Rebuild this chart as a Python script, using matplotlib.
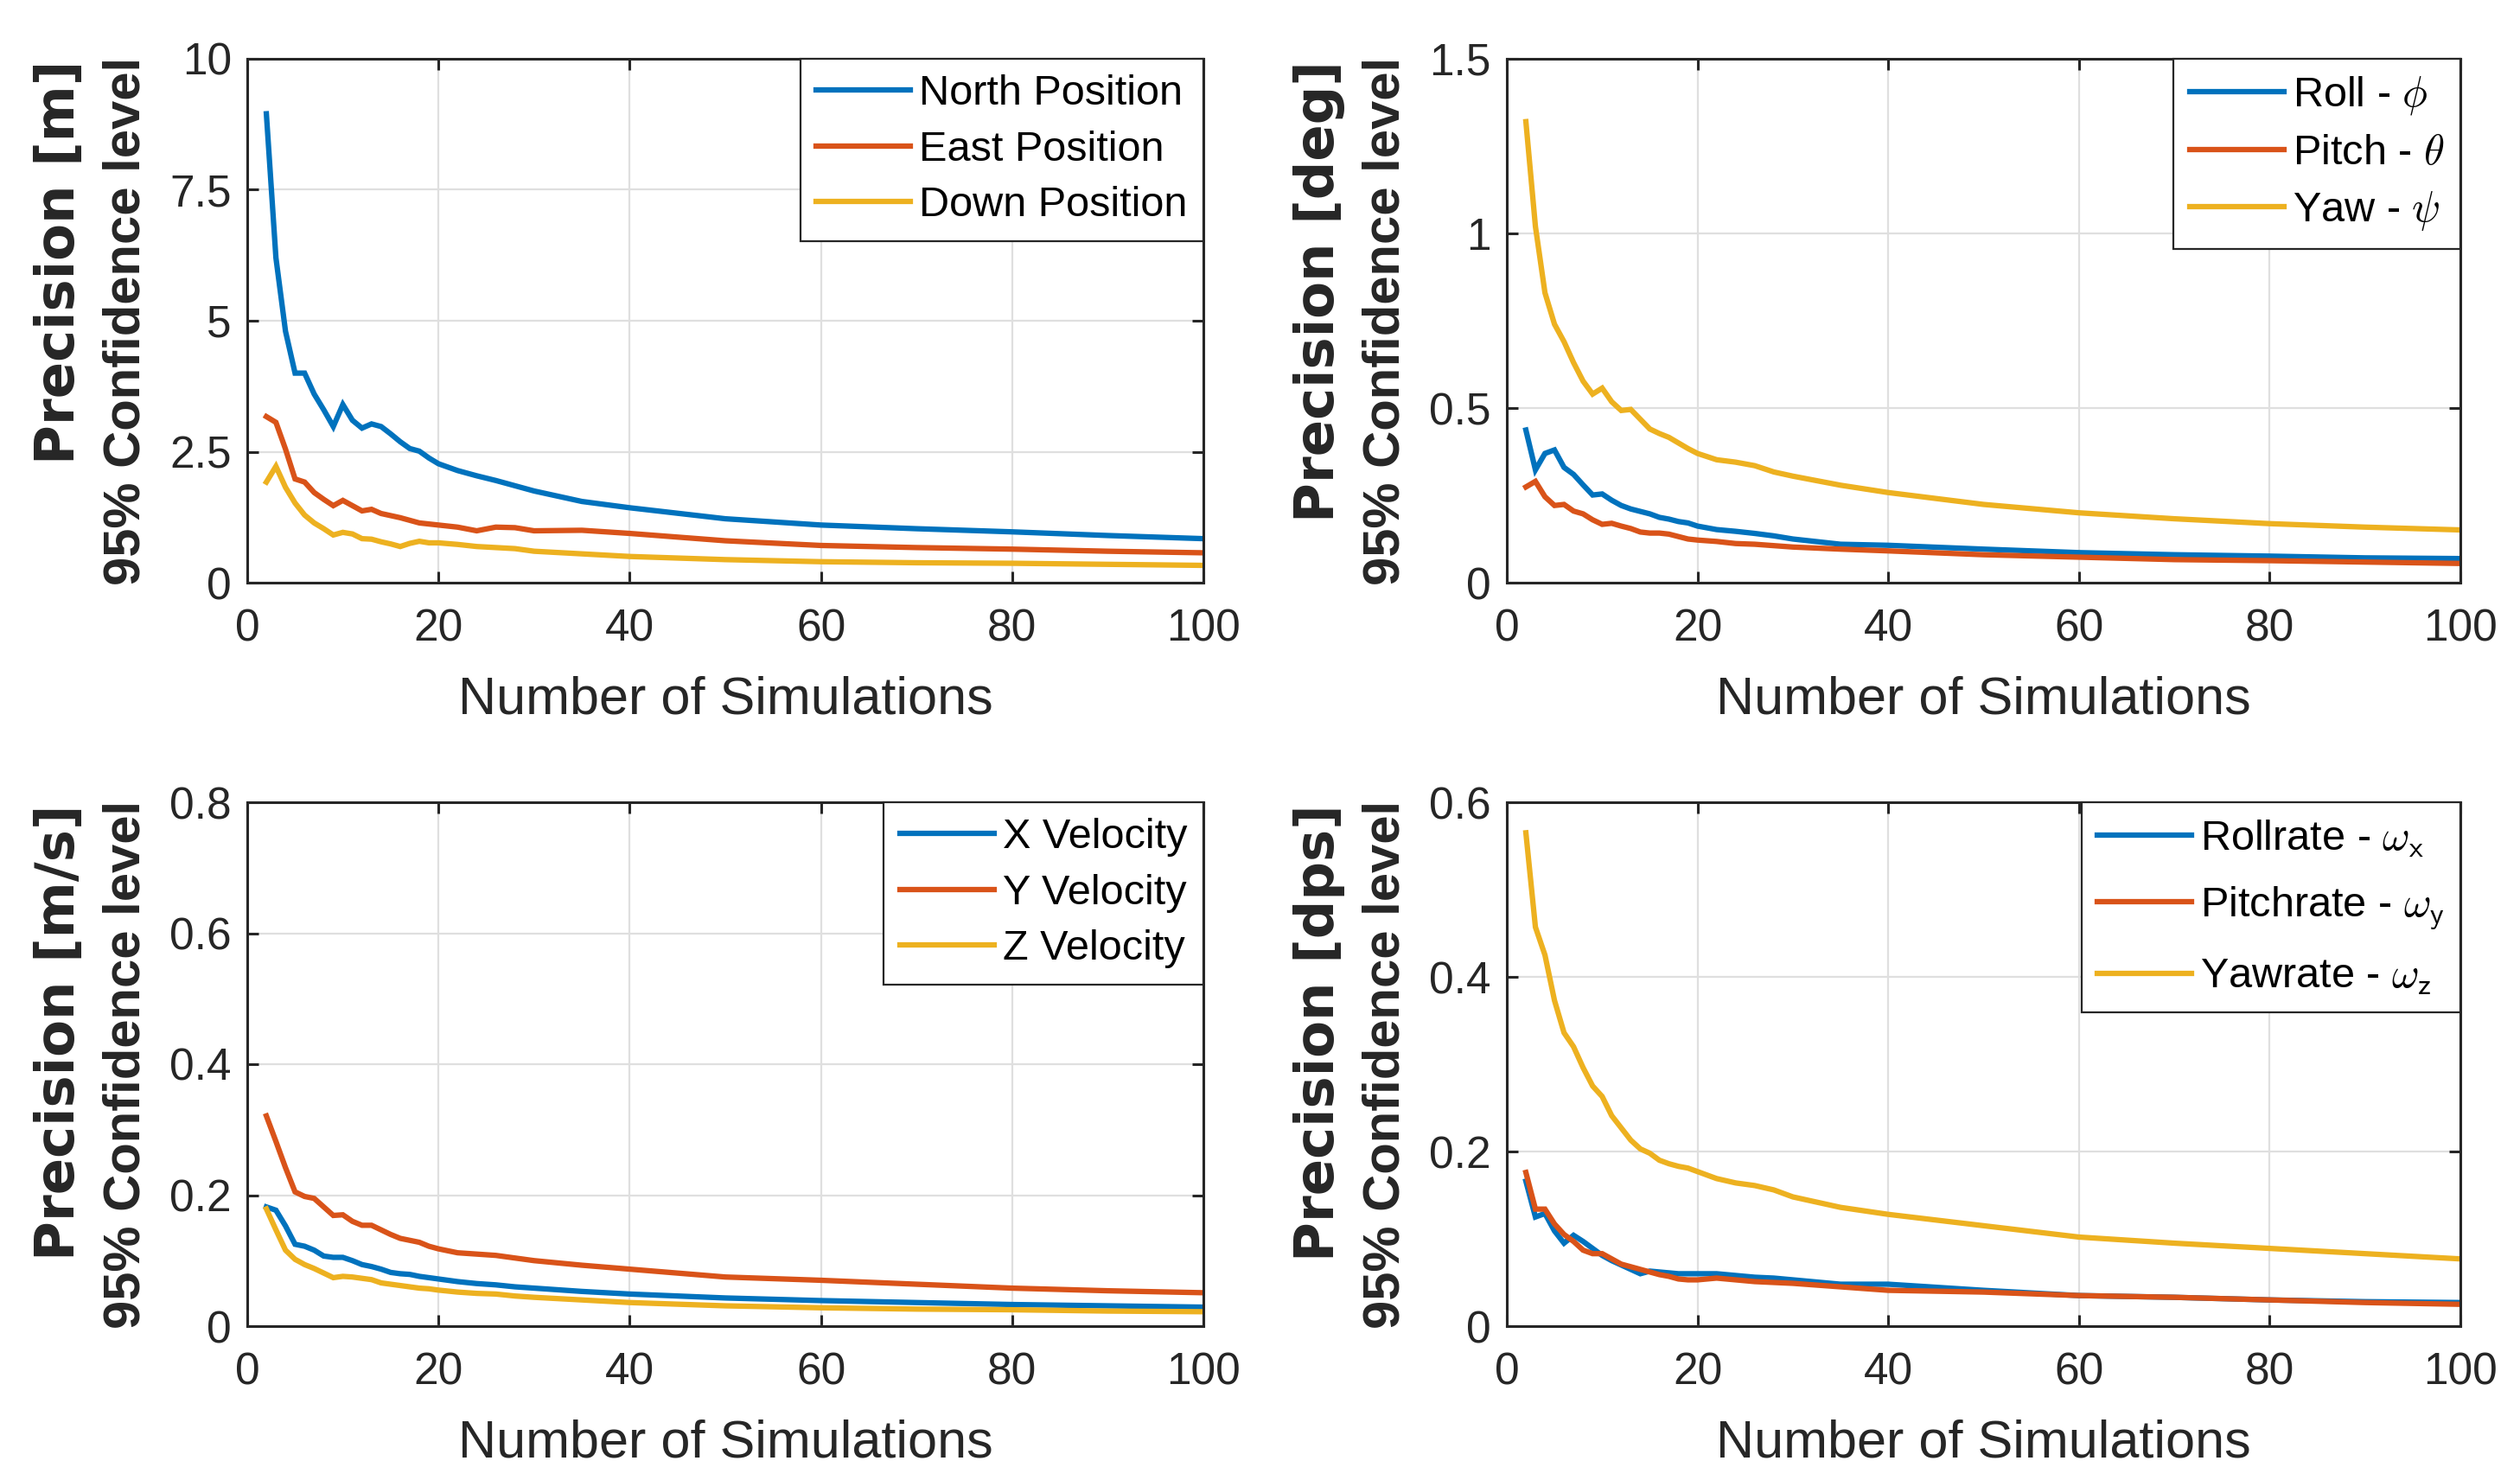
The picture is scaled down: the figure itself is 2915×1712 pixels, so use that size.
import matplotlib
matplotlib.use("Agg")
import matplotlib.pyplot as plt
from matplotlib import font_manager as fm

# ---------------- data ----------------
n_sims = [2, 3, 4, 5, 6, 7, 8, 9, 10, 11, 12, 13, 14, 15, 16, 17, 18, 19, 20,
          22, 24, 26, 28, 30, 35, 40, 50, 60, 70, 80, 90, 100]

north_pos = [8.95, 6.2, 4.8, 4.0, 4.0, 3.6, 3.3, 2.98, 3.4, 3.1, 2.95, 3.03, 2.98, 2.84, 2.69, 2.56, 2.51, 2.38, 2.27,
             2.14, 2.04, 1.95, 1.85, 1.75, 1.55, 1.43, 1.22, 1.10, 1.03, 0.97, 0.90, 0.84]
east_pos = [3.17, 3.06, 2.55, 1.98, 1.92, 1.72, 1.59, 1.47, 1.57, 1.47, 1.37, 1.40, 1.32, 1.28, 1.24, 1.19, 1.14, 1.12, 1.10,
            1.06, 0.99, 1.06, 1.05, 0.99, 1.00, 0.94, 0.80, 0.71, 0.67, 0.64, 0.60, 0.57]
down_pos = [1.92, 2.22, 1.82, 1.52, 1.29, 1.14, 1.03, 0.91, 0.96, 0.93, 0.84, 0.83, 0.78, 0.74, 0.69, 0.75, 0.79, 0.76, 0.76,
            0.73, 0.69, 0.67, 0.65, 0.60, 0.55, 0.50, 0.44, 0.40, 0.38, 0.37, 0.35, 0.33]

roll = [0.437, 0.323, 0.37, 0.38, 0.33, 0.31, 0.28, 0.251, 0.254, 0.236, 0.221, 0.211, 0.204, 0.197, 0.187, 0.182, 0.175, 0.171, 0.162,
        0.152, 0.147, 0.141, 0.134, 0.125, 0.110, 0.107, 0.096, 0.086, 0.080, 0.076, 0.071, 0.069]
pitch = [0.274, 0.29, 0.246, 0.221, 0.224, 0.205, 0.197, 0.18, 0.167, 0.17, 0.162, 0.155, 0.145, 0.142, 0.142, 0.139, 0.132, 0.125, 0.122,
         0.118, 0.112, 0.11, 0.106, 0.102, 0.096, 0.091, 0.080, 0.073, 0.066, 0.063, 0.059, 0.055]
yaw = [1.32, 1.02, 0.83, 0.74, 0.69, 0.63, 0.577, 0.54, 0.557, 0.518, 0.493, 0.496, 0.468, 0.44, 0.427, 0.416, 0.40, 0.384, 0.37,
       0.352, 0.345, 0.335, 0.317, 0.305, 0.279, 0.258, 0.224, 0.20, 0.183, 0.169, 0.159, 0.151]

x_vel = [0.182, 0.177, 0.153, 0.125, 0.122, 0.116, 0.107, 0.105, 0.105, 0.10, 0.094, 0.091, 0.087, 0.082, 0.08, 0.079, 0.076, 0.074, 0.072,
         0.068, 0.065, 0.063, 0.060, 0.058, 0.053, 0.049, 0.043, 0.039, 0.036, 0.033, 0.031, 0.029]
y_vel = [0.321, 0.282, 0.242, 0.205, 0.198, 0.195, 0.182, 0.169, 0.170, 0.160, 0.154, 0.154, 0.147, 0.14, 0.134, 0.131, 0.128, 0.122, 0.118,
         0.112, 0.110, 0.108, 0.104, 0.100, 0.093, 0.087, 0.075, 0.070, 0.064, 0.058, 0.054, 0.051]
z_vel = [0.179, 0.147, 0.116, 0.102, 0.094, 0.088, 0.081, 0.074, 0.076, 0.075, 0.073, 0.071, 0.066, 0.064, 0.062, 0.060, 0.058, 0.057, 0.055,
         0.052, 0.050, 0.049, 0.046, 0.044, 0.040, 0.036, 0.031, 0.028, 0.026, 0.025, 0.023, 0.022]

rollrate = [0.166, 0.125, 0.129, 0.109, 0.095, 0.104, 0.097, 0.089, 0.081, 0.075, 0.07, 0.065, 0.06, 0.063, 0.062, 0.061, 0.06, 0.060, 0.06,
            0.06, 0.058, 0.056, 0.055, 0.053, 0.048, 0.048, 0.041, 0.035, 0.033, 0.030, 0.028, 0.027]
pitchrate = [0.176, 0.134, 0.134, 0.117, 0.105, 0.097, 0.087, 0.083, 0.083, 0.077, 0.071, 0.068, 0.065, 0.062, 0.059, 0.057, 0.054, 0.053, 0.053,
             0.055, 0.053, 0.051, 0.05, 0.049, 0.045, 0.041, 0.039, 0.035, 0.033, 0.030, 0.027, 0.025]
yawrate = [0.565, 0.457, 0.425, 0.373, 0.336, 0.32, 0.296, 0.275, 0.263, 0.241, 0.227, 0.213, 0.203, 0.198, 0.19, 0.186, 0.183, 0.181, 0.177,
           0.169, 0.164, 0.161, 0.156, 0.148, 0.136, 0.128, 0.115, 0.102, 0.095, 0.089, 0.083, 0.077]

x_ticks = [0, 20, 40, 60, 80, 100]
x_tick_labels = ["0", "20", "40", "60", "80", "100"]
conf_label = "95% Confidence level"

panels = [
    dict(series=[north_pos, east_pos, down_pos],
         labels=["North Position", "East Position", "Down Position"],
         ylabel="Precision [m]",
         ylim=10, yticks=[0, 2.5, 5, 7.5, 10], yticklabels=["0", "2.5", "5", "7.5", "10"]),
    dict(series=[roll, pitch, yaw],
         labels=[r"Roll - $\phi$", r"Pitch - $\theta$", r"Yaw - $\psi$"],
         ylabel="Precision [deg]",
         ylim=1.5, yticks=[0, 0.5, 1, 1.5], yticklabels=["0", "0.5", "1", "1.5"]),
    dict(series=[x_vel, y_vel, z_vel],
         labels=["X Velocity", "Y Velocity", "Z Velocity"],
         ylabel="Precision [m/s]",
         ylim=0.8, yticks=[0, 0.2, 0.4, 0.6, 0.8], yticklabels=["0", "0.2", "0.4", "0.6", "0.8"]),
    dict(series=[rollrate, pitchrate, yawrate],
         labels=[r"Rollrate - $\omega_{\mathsf{x}}$", r"Pitchrate - $\omega_{\mathsf{y}}$", r"Yawrate - $\omega_{\mathsf{z}}$"],
         ylabel="Precision [dps]",
         ylim=0.6, yticks=[0, 0.2, 0.4, 0.6], yticklabels=["0", "0.2", "0.4", "0.6"]),
]

colors = ["#0072BD", "#D95319", "#EDB120"]

# ---------------- style ----------------
plt.rcParams["font.family"] = ["Liberation Sans", "DejaVu Sans"]
plt.rcParams["mathtext.fontset"] = "cm"

avail = {f.name for f in fm.fontManager.ttflist}
if "Liberation Sans Narrow" in avail:
    tick_family, tick_fs, xl_fs = "Liberation Sans Narrow", 46, 52
else:
    tick_family, tick_fs, xl_fs = "Liberation Sans", 37, 44

W, H = 2915, 1712
fig = plt.figure(figsize=(W / 100, H / 100), dpi=100)

dark = "#262626"
boxes = [(286, 68, 1392, 674), (1743, 68, 2846, 674),
         (286, 928, 1392, 1534), (1743, 928, 2846, 1534)]
leg_spacing = [0.4, 0.4, 0.4, 0.62]

for i, (p, (l, t, r, b)) in enumerate(zip(panels, boxes)):
    ax = fig.add_axes([l / W, 1 - b / H, (r - l) / W, (b - t) / H])
    for s, c, lab in zip(p["series"], colors, p["labels"]):
        ax.plot(n_sims, s, color=c, lw=4.5, label=lab, solid_joinstyle="miter")
    ax.set_xlim(0, 100)
    ax.set_ylim(0, p["ylim"])
    ax.set_xticks(x_ticks, x_tick_labels, fontfamily=tick_family, fontsize=tick_fs, color=dark)
    ax.set_yticks(p["yticks"], p["yticklabels"], fontfamily=tick_family, fontsize=tick_fs, color=dark)
    ax.tick_params(direction="in", length=9.5, width=2.2, color=dark,
                   top=True, right=True)
    ax.tick_params(axis="x", pad=21)
    ax.tick_params(axis="y", pad=13)
    for sp in ax.spines.values():
        sp.set_linewidth(2.2)
        sp.set_color(dark)
    ax.grid(True, color="#dfdfdf", lw=1.6)
    ax.set_axisbelow(True)
    ax.set_xlabel("Number of Simulations", fontfamily=tick_family, fontsize=xl_fs, color=dark)
    ax.xaxis.set_label_coords(0.5, -0.178)
    # two-line y label: first line wide, second line centred on the axes
    fig.text((l - 217) / W, 1 - (t + 2) / H, p["ylabel"], rotation=90,
             ha="center", va="top", fontsize=45, fontweight="bold",
             family=["DejaVu Sans"], color=dark)
    fig.text((l - 140) / W, 1 - (t + b) / 2 / H, conf_label, rotation=90,
             ha="center", va="center", fontsize=43, fontweight="bold",
             family=["Liberation Sans"], color=dark)
    leg = ax.legend(loc="upper right", borderaxespad=0, fancybox=False,
                    framealpha=1, edgecolor=dark, fontsize=35,
                    handlelength=2.25, handletextpad=0.2, borderpad=0.38,
                    labelspacing=leg_spacing[i])
    leg.get_frame().set_linewidth(1.6)
    for txt in leg.get_texts():
        txt.set_color("black")

fig.savefig("out.png", dpi=100)
